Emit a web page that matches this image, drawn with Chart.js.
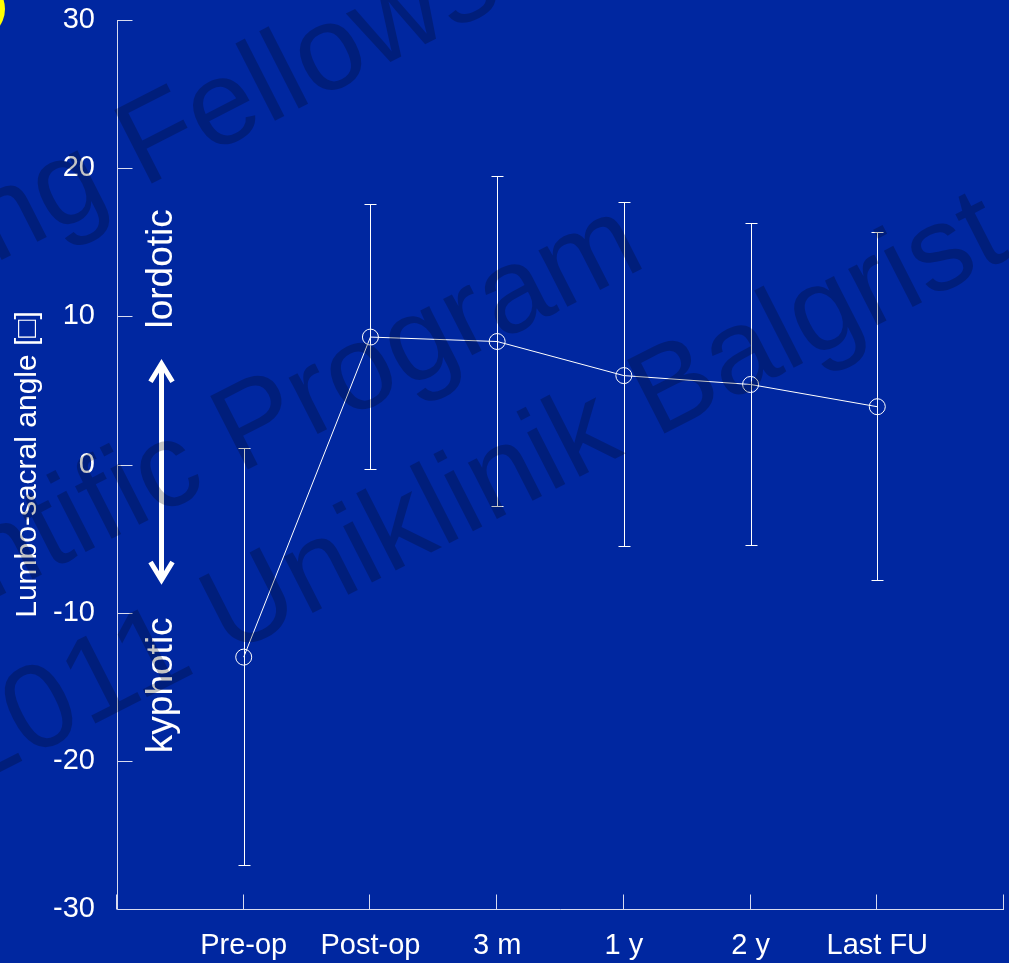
<!DOCTYPE html>
<html>
<head>
<meta charset="utf-8">
<style>
html,body{margin:0;padding:0;background:#0027a0;overflow:hidden}
#wrap{width:1009px;height:963px;position:relative}
canvas{display:block}
</style>
<script src="https://cdn.jsdelivr.net/npm/chart.js@4.4.1/dist/chart.umd.min.js"></script>
</head>
<body>
<div id="wrap"><canvas id="c" width="1009" height="963"></canvas></div>
<script>
// ---- data ----
const categories = ['Pre-op', 'Post-op', '3 m', '1 y', '2 y', 'Last FU'];
const meanAngle  = [-13.0, 8.6, 8.3, 6.0, 5.4, 3.9];
const upperAngle = [1.1, 17.6, 19.5, 17.7, 16.3, 15.7];
const lowerAngle = [-27.0, -0.3, -2.8, -5.5, -5.4, -7.8];
const yTicks = [-30, -20, -10, 0, 10, 20, 30];
const xTickValues = [0, 1, 2, 3, 4, 5, 6, 7];
const yAxisTitle = 'Lumbo-sacral angle [\u25A1]';
const directionLabels = ['lordotic', 'kyphotic'];
const watermarkLines = ['Training Fellowship', 'Scientific Program', '2011 Uniklinik Balgrist'];

// ---- styles ----
const FONT = '"Liberation Sans", Arial, Helvetica, sans-serif';
const BG = '#0027a0';
const AXIS = '#d8dcf0';
const WHITE = '#ffffff';

const decorPlugin = {
  id: 'decor',
  beforeDraw(chart) {
    const ctx = chart.ctx;
    ctx.save();
    ctx.fillStyle = BG;
    ctx.fillRect(0, 0, chart.width, chart.height);
    ctx.beginPath();
    ctx.arc(-25, 9, 30, 0, Math.PI * 2);
    ctx.fillStyle = '#ffff00';
    ctx.fill();
    ctx.restore();
  },
  beforeDatasetsDraw(chart) {
    const ctx = chart.ctx;
    const xs = chart.scales.x, ys = chart.scales.y;
    const a = chart.chartArea;
    ctx.save();
    ctx.strokeStyle = AXIS;
    ctx.lineWidth = 1;
    ctx.beginPath();
    const x0 = Math.round(a.left) + 0.5;
    const yb = Math.round(a.bottom) + 0.5;
    ctx.moveTo(x0, Math.round(a.top));
    ctx.lineTo(x0, yb);
    ctx.lineTo(Math.round(a.right), yb);
    yTicks.forEach(v => {
      const py = Math.round(ys.getPixelForValue(v)) + 0.5;
      ctx.moveTo(x0, py);
      ctx.lineTo(x0 + 15, py);
    });
    xTickValues.forEach(v => {
      const px = Math.round(xs.getPixelForValue(v)) - 0.5;
      ctx.moveTo(px, yb);
      ctx.lineTo(px, yb - 15);
    });
    ctx.stroke();

    ctx.strokeStyle = WHITE;
    ctx.beginPath();
    categories.forEach((c, i) => {
      const px = Math.round(xs.getPixelForValue(i + 1)) + 0.5;
      const pt = Math.round(ys.getPixelForValue(upperAngle[i])) + 0.5;
      const pb = Math.round(ys.getPixelForValue(lowerAngle[i])) + 0.5;
      ctx.moveTo(px, pt); ctx.lineTo(px, pb);
      ctx.moveTo(px - 6, pt); ctx.lineTo(px + 6, pt);
      ctx.moveTo(px - 6, pb); ctx.lineTo(px + 6, pb);
    });
    ctx.stroke();
    ctx.restore();
  },
  afterDraw(chart) {
    const ctx = chart.ctx;
    const xs = chart.scales.x, ys = chart.scales.y;
    ctx.save();
    const ax = Math.round(xs.getPixelForValue(0.35)) + 0.5;
    const top = ys.getPixelForValue(7.0);
    const bot = ys.getPixelForValue(-8.0);
    ctx.strokeStyle = WHITE;
    ctx.lineWidth = 5;
    ctx.lineJoin = 'miter';
    ctx.beginPath();
    ctx.moveTo(ax, top + 3); ctx.lineTo(ax, bot - 3);
    ctx.stroke();
    ctx.beginPath();
    ctx.moveTo(ax - 11, top + 21); ctx.lineTo(ax, top + 3); ctx.lineTo(ax + 11, top + 21);
    ctx.moveTo(ax - 11, bot - 21); ctx.lineTo(ax, bot - 3); ctx.lineTo(ax + 11, bot - 21);
    ctx.stroke();
    ctx.fillStyle = WHITE;
    ctx.font = '37px ' + FONT;
    ctx.textAlign = 'center';
    ctx.textBaseline = 'middle';
    [[directionLabels[0], 13.2], [directionLabels[1], -14.9]].forEach(([t, v]) => {
      ctx.save();
      ctx.translate(ax, ys.getPixelForValue(v));
      ctx.rotate(-Math.PI / 2);
      ctx.fillText(t, 0, 0);
      ctx.restore();
    });
    // watermark
    ctx.fillStyle = 'rgba(0,0,0,0.23)';
    ctx.font = '120px ' + FONT;
    ctx.textAlign = 'left';
    ctx.textBaseline = 'alphabetic';
    const ang = -27 * Math.PI / 180;
    const anchors = [
      [watermarkLines[0], 'Training ', 143, 188],
      [watermarkLines[1], 'Scientific ', 239, 474],
      [watermarkLines[2], '2011 ', 228, 656]
    ];
    anchors.forEach(([t, pre, x, y]) => {
      ctx.save();
      ctx.translate(x, y);
      ctx.rotate(ang);
      ctx.fillText(t, -ctx.measureText(pre).width, 0);
      ctx.restore();
    });
    ctx.restore();
  }
};

const ctx = document.getElementById('c').getContext('2d');
new Chart(ctx, {
  type: 'line',
  data: {
    datasets: [{
      data: categories.map((c, i) => ({ x: i + 1, y: meanAngle[i] })),
      borderColor: WHITE,
      borderWidth: 1,
      pointRadius: 8,
      pointHoverRadius: 8,
      pointBorderWidth: 1,
      pointBackgroundColor: 'rgba(0,0,0,0)',
      pointBorderColor: WHITE,
      tension: 0,
      fill: false
    }]
  },
  options: {
    responsive: false,
    animation: false,
    devicePixelRatio: 1,
    layout: { autoPadding: false, padding: { top: 20, right: 5, left: 0, bottom: 0 } },
    plugins: { legend: { display: false }, tooltip: { enabled: false } },
    events: [],
    scales: {
      x: {
        type: 'linear', min: 0, max: 7,
        afterBuildTicks: s => { s.ticks = xTickValues.map(v => ({ value: v })); },
        afterFit: s => { s.height = 54; s.paddingLeft = 0; s.paddingRight = 0; },
        grid: { display: false, drawTicks: false },
        border: { display: false },
        ticks: {
          autoSkip: false, maxRotation: 0, minRotation: 0, color: WHITE,
          font: { family: FONT, size: 29 }, padding: 20,
          callback: v => categories[v - 1] ?? ''
        }
      },
      y: {
        min: -30, max: 30,
        afterBuildTicks: s => { s.ticks = yTicks.map(v => ({ value: v })); },
        afterFit: s => { s.width = 117; s.paddingTop = 0; s.paddingBottom = 0; },
        grid: { display: false, drawTicks: false },
        border: { display: false },
        ticks: { color: WHITE, font: { family: FONT, size: 29 }, padding: 22 },
        title: {
          display: true, text: yAxisTitle, color: WHITE,
          font: { family: FONT, size: 30 }, padding: { top: 10, bottom: 0 }
        }
      }
    }
  },
  plugins: [decorPlugin]
});
</script>
</body>
</html>
